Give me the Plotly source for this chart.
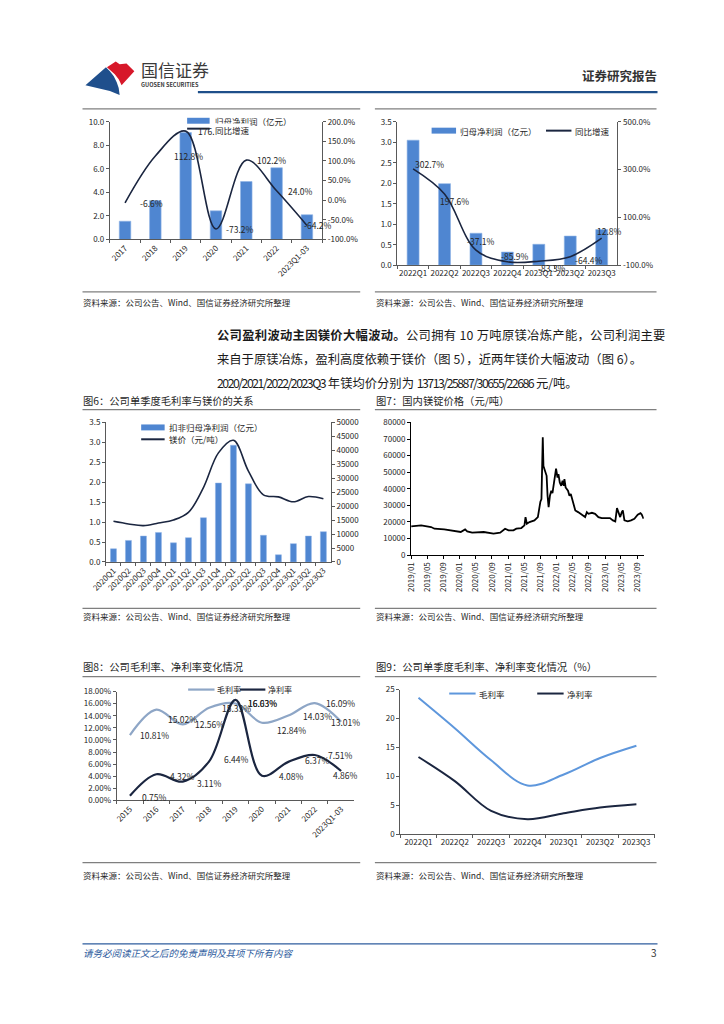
import plotly.graph_objects as go

# ---------------- data ----------------
annual_years = ["2017", "2018", "2019", "2020", "2021", "2022", "2023Q1-03"]
annual_profit = [1.55, 3.30, 9.08, 2.43, 4.92, 6.09, 2.10]
annual_growth = [-6.6, 112.8, 176.1, -73.2, 102.2, 24.0, -64.2]

quarters_a = ["2022Q1", "2022Q2", "2022Q3", "2022Q4", "2023Q1", "2023Q2", "2023Q3"]
quarter_profit = [3.05, 1.99, 0.78, 0.32, 0.51, 0.71, 0.87]
quarter_growth = [302.7, 197.6, -37.1, -85.9, -83.3, -64.4, 12.8]

quarters_b = ["2020Q1", "2020Q2", "2020Q3", "2020Q4", "2021Q1", "2021Q2", "2021Q3", "2021Q4",
              "2022Q1", "2022Q2", "2022Q3", "2022Q4", "2023Q1", "2023Q2", "2023Q3"]
deducted_profit = [0.33, 0.54, 0.65, 0.74, 0.48, 0.61, 1.11, 1.98, 2.93, 1.96, 0.67, 0.18, 0.46, 0.65, 0.76]
mg_quarter_price = [14570, 13630, 13030, 13980, 15050, 17770, 26660, 39100,
                    43600, 32580, 24050, 23340, 21560, 23460, 22630]

mg_dates = ["2019-01-02", "2019-03-18", "2019-06-01", "2019-06-26", "2019-09-08", "2019-11-21",
            "2020-01-10", "2020-02-12", "2020-02-28", "2020-04-05", "2020-07-01", "2020-09-13",
            "2020-11-02", "2020-12-09", "2021-01-04", "2021-02-10", "2021-03-04", "2021-04-10",
            "2021-05-04", "2021-05-12", "2021-05-22", "2021-06-11", "2021-07-18", "2021-08-13",
            "2021-08-25", "2021-09-01", "2021-09-09", "2021-09-19", "2021-09-24", "2021-10-08",
            "2021-10-18", "2021-10-25", "2021-11-02", "2021-11-12", "2021-11-22", "2021-12-01",
            "2021-12-09", "2021-12-21", "2021-12-28", "2022-01-08", "2022-01-15", "2022-01-25",
            "2022-02-05", "2022-02-15", "2022-02-25", "2022-03-01", "2022-03-10", "2022-03-28",
            "2022-04-08", "2022-04-18", "2022-04-28", "2022-05-10", "2022-05-22", "2022-06-12",
            "2022-07-10", "2022-08-04", "2022-08-17", "2022-08-29", "2022-09-24", "2022-10-18",
            "2022-11-12", "2022-12-07", "2023-01-13", "2023-02-07", "2023-03-01", "2023-03-19",
            "2023-04-01", "2023-04-13", "2023-04-25", "2023-05-07", "2023-05-15", "2023-05-27",
            "2023-06-21", "2023-07-16", "2023-08-10", "2023-09-04", "2023-09-25", "2023-10-04",
            "2023-10-18"]
mg_prices = [17300, 17900, 16900, 15900, 15500, 14300,
             13900, 15500, 14300, 13500, 13900, 12900,
             13500, 15900, 14900, 14900, 15900, 16300,
             17900, 22900, 18900, 19900, 20900, 22900,
             30800, 32200, 33800, 71000, 53700, 49700,
             47800, 35800, 28900, 35800, 38800, 37400,
             41800, 50700, 52100, 46800, 48800, 43800,
             41800, 44800, 41800, 45800, 40800, 38800,
             35800, 36800, 33800, 31800, 26900, 25900,
             24300, 22900, 25900, 24900, 25500, 24900,
             22900, 22300, 22300, 22300, 20900, 20300,
             28300, 25900, 22900, 25900, 26900, 20900,
             20300, 20900, 21900, 24300, 25300, 24500,
             21900]
mg_tick_dates = ["2019-01-01", "2019-05-01", "2019-09-01", "2020-01-01", "2020-05-01",
                 "2020-09-01", "2021-01-01", "2021-05-01", "2021-09-01", "2022-01-01",
                 "2022-05-01", "2022-09-01", "2023-01-01", "2023-05-01", "2023-09-01"]
mg_tick_labels = ["2019/01", "2019/05", "2019/09", "2020/01", "2020/05", "2020/09", "2021/01",
                  "2021/05", "2021/09", "2022/01", "2022/05", "2022/09", "2023/01", "2023/05",
                  "2023/09"]

margin_years = ["2015", "2016", "2017", "2018", "2019", "2020", "2021", "2022", "2023Q1-03"]
gross_margin_annual = [10.81, 15.02, 12.56, 15.33, 16.03, 12.84, 14.03, 16.09, 13.01]
net_margin_annual = [0.75, 4.32, 3.11, 6.44, 16.63, 4.08, 6.37, 7.51, 4.86]

gross_margin_q = [23.57, 18.30, 12.76, 8.41, 10.30, 13.16, 15.28]
net_margin_q = [13.33, 9.15, 4.00, 2.57, 3.60, 4.58, 5.15]

# ---------------- styles ----------------
W, H = 724, 1024
FONT = "Noto Sans CJK SC"
BAR = "#4f86d1"
BAR_EDGE = "#8fb3e6"
NAVY = "#1b2640"
GROSS8 = "#8ea6c6"
GROSS9 = "#5e97dc"
AX = "#595959"
TXT = "#262626"
SEP = "#7f7f7f"
HEAD_BLUE = "#1e4f8a"

# label pixel offsets (style)
c1_dx = [26, 33, 27, 24, 25, 24, 11]
c2_dx = [16, 10, 5, 7, 13, 18, 8]
c2_dy = [-5, 7, -9, -6, 7, 3, -7]
c8_dx = [25, 26, 27, 27, 27, 30, 29, 26, 4]
c8_dy_g = [0, 9, 0, 0, 0, 7, 0, 0, 0]
c8_dy_n = [1, 2, 1, -2, 3, 0, -2, 0, 4]


def X(p):
    return p / W


def Y(p):
    return 1 - p / H


fig = go.Figure()

# Chart 1: annual net profit + growth
fig.add_trace(go.Bar(x=annual_years, y=annual_profit, xaxis="x", yaxis="y", width=0.38,
                     marker=dict(color=BAR, line=dict(color=BAR_EDGE, width=0.6))))
fig.add_trace(go.Scatter(x=annual_years, y=annual_growth, xaxis="x", yaxis="y2", mode="lines",
                         line=dict(color=NAVY, width=1.6, shape="spline")))
# Chart 2: quarterly net profit + growth
fig.add_trace(go.Bar(x=quarters_a, y=quarter_profit, xaxis="x2", yaxis="y3", width=0.38,
                     marker=dict(color=BAR, line=dict(color=BAR_EDGE, width=0.6))))
fig.add_trace(go.Scatter(x=quarters_a, y=quarter_growth, xaxis="x2", yaxis="y4", mode="lines",
                         line=dict(color=NAVY, width=1.6, shape="spline")))
# Chart 6
fig.add_trace(go.Bar(x=quarters_b, y=deducted_profit, xaxis="x3", yaxis="y5", width=0.4,
                     marker=dict(color=BAR, line=dict(color=BAR_EDGE, width=0.5))))
fig.add_trace(go.Scatter(x=quarters_b, y=mg_quarter_price, xaxis="x3", yaxis="y6", mode="lines",
                         line=dict(color=NAVY, width=1.6, shape="spline")))
# Chart 7
fig.add_trace(go.Scatter(x=mg_dates, y=mg_prices, xaxis="x4", yaxis="y7", mode="lines",
                         line=dict(color="#000000", width=1.8)))
# Chart 8
fig.add_trace(go.Scatter(x=margin_years, y=gross_margin_annual, xaxis="x5", yaxis="y8", mode="lines",
                         line=dict(color=GROSS8, width=2.2, shape="spline")))
fig.add_trace(go.Scatter(x=margin_years, y=net_margin_annual, xaxis="x5", yaxis="y8", mode="lines",
                         line=dict(color=NAVY, width=2.2, shape="spline")))
# Chart 9
fig.add_trace(go.Scatter(x=quarters_a, y=gross_margin_q, xaxis="x6", yaxis="y9", mode="lines",
                         line=dict(color=GROSS9, width=2.0, shape="spline")))
fig.add_trace(go.Scatter(x=quarters_a, y=net_margin_q, xaxis="x6", yaxis="y9", mode="lines",
                         line=dict(color=NAVY, width=2.0, shape="spline")))

tickfont = dict(family=FONT, size=8, color=TXT)


def cat_axis(x0, x1, y_anchor, n, angle=0):
    return dict(domain=[X(x0), X(x1)], anchor=y_anchor, type="category", range=[-0.5, n - 0.5],
                showline=True, linecolor=AX, linewidth=1, ticks="outside", ticklen=3, tickcolor=AX,
                tickson="boundaries", showgrid=False, zeroline=False, tickfont=tickfont,
                tickangle=angle, fixedrange=True)


def val_axis(y0, y1, x_anchor, rng, **kw):
    d = dict(domain=[Y(y1), Y(y0)], anchor=x_anchor, range=rng, showline=True, linecolor=AX,
             linewidth=1, ticks="outside", ticklen=3, tickcolor=AX, showgrid=False, zeroline=False,
             tickfont=tickfont, fixedrange=True)
    d.update(kw)
    return d


def pct_ticks(vals):
    return ["%.1f%%" % v for v in vals]


r1 = [-100, -50, 0, 50, 100, 150, 200]
r2 = [-100, 100, 300, 500]

layout = dict(
    width=W, height=H, autosize=False, margin=dict(l=0, r=0, t=0, b=0),
    paper_bgcolor="white", plot_bgcolor="rgba(0,0,0,0)", showlegend=False,
    font=dict(family=FONT, color=TXT),
    xaxis=cat_axis(96, 313, "y", 7, -45),
    yaxis=val_axis(117, 236, "x", [0, 10], dtick=2, tickformat=".1f"),
    yaxis2=val_axis(117, 236, "x", [-100, 200], overlaying="y", side="right",
                    tickvals=r1, ticktext=pct_ticks(r1)),
    xaxis2=cat_axis(390, 615, "y3", 7, 0),
    yaxis3=val_axis(117, 262, "x2", [0, 3.5], dtick=0.5, tickformat=".1f"),
    yaxis4=val_axis(117, 262, "x2", [-100, 500], overlaying="y3", side="right",
                    tickvals=r2, ticktext=pct_ticks(r2)),
    xaxis3=cat_axis(92, 322, "y5", 15, -45),
    yaxis5=val_axis(421, 562, "x3", [0, 3.5], dtick=0.5, tickformat=".1f"),
    yaxis6=val_axis(421, 562, "x3", [0, 50000], overlaying="y5", side="right", dtick=5000,
                    tickformat="d"),
    xaxis4=dict(domain=[X(404), X(642)], anchor="y7", type="date", range=["2019-01-01", "2023-10-20"],
                tickvals=mg_tick_dates, ticktext=mg_tick_labels, tickangle=-90, showline=True,
                linecolor="#000000", linewidth=1, ticks="outside", ticklen=3, tickcolor="#000000",
                showgrid=False, zeroline=False, tickfont=tickfont, fixedrange=True),
    yaxis7=val_axis(421, 555, "x4", [0, 80000], dtick=10000, tickformat="d", linecolor="#000000",
                    tickcolor="#000000"),
    xaxis5=cat_axis(103, 346, "y8", 9, -45),
    yaxis8=val_axis(693, 803, "x5", [0, 18], dtick=2, tickformat=".2f", ticksuffix="%"),
    xaxis6=cat_axis(393, 653, "y9", 7, 0),
    yaxis9=val_axis(691, 837, "x6", [0, 25], dtick=5),
)
fig.update_layout(**layout)

annotations = []
shapes = []


def txt(t, x, y, size, color=TXT, xanchor="left", yanchor="middle", bg=None, italic=False):
    a = dict(text=t, x=X(x), y=Y(y), xref="paper", yref="paper", showarrow=False,
             xanchor=xanchor, yanchor=yanchor, borderpad=0,
             font=dict(family=FONT, size=size, color=color, style="italic" if italic else "normal"))
    if bg:
        a["bgcolor"] = bg
    annotations.append(a)


def hline(x0, x1, y, color=SEP, width=1.3):
    shapes.append(dict(type="line", xref="paper", yref="paper", x0=X(x0), x1=X(x1), y0=Y(y), y1=Y(y),
                       line=dict(color=color, width=width)))


def rect(x0, x1, y0, y1, color):
    shapes.append(dict(type="rect", xref="paper", yref="paper", x0=X(x0), x1=X(x1), y0=Y(y1), y1=Y(y0),
                       line=dict(width=0), fillcolor=color))


def path(points, color):
    d = "M " + " L ".join("%.5f,%.5f" % (X(a), Y(b)) for a, b in points) + " Z"
    shapes.append(dict(type="path", xref="paper", yref="paper", path=d, line=dict(width=0),
                       fillcolor=color))


def spaced(s, ls):
    return '<span style="letter-spacing:%spx">%s</span>' % (ls, s)


# ---- header ----
path([(71, 80), (92, 62), (96, 66), (100, 71), (103, 77), (105, 83), (106, 90), (96, 86)], "#1f4f8c")
path([(93, 62), (102, 56), (106, 59), (113, 58), (121, 66), (108, 80), (105, 74), (101, 69)], "#d7182a")
txt("国信证券", 127, 64, 17, "#3a3a3a")
txt("<b>GUOSEN SECURITIES</b>", 127, 80, 5.6, "#3a3a3a")
txt("<b>证券研究报告</b>", 656, 70, 12.5, "#333333", xanchor="right")
hline(186, 656, 87, HEAD_BLUE, 2.2)

# ---- separators / titles / sources ----
for xa, xb in [(68, 352), (367, 655)]:
    hline(xa, xb, 104)
    hline(xa, xb, 289)
    hline(xa, xb, 408)
    hline(xa, xb, 609)
    hline(xa, xb, 678)
    hline(xa, xb, 866)

src = "资料来源：公司公告、Wind、国信证券经济研究所整理"
for xa in (68, 367):
    txt(src, xa, 299, 8.5)
    txt(src, xa, 617, 8.5)
    txt(src, xa, 878, 8.5)

txt("图6：公司单季度毛利率与镁价的关系", 68, 399, 10.3)
txt("图7：国内镁锭价格（元/吨）", 367, 399, 10.3)
txt("图8：公司毛利率、净利率变化情况", 68, 668, 10.3)
txt("图9：公司单季度毛利率、净利率变化情况（%）", 367, 668, 10.3)

# ---- paragraph ----
PS = 12.3
txt(spaced("<b>公司盈利波动主因镁价大幅波动。</b>公司拥有 10 万吨原镁冶炼产能，公司利润主要", 0.3),
    205, 333, PS, "#1a1a1a")
txt("来自于原镁冶炼，盈利高度依赖于镁价（图 5），近两年镁价大幅波动（图 6）。",
    205, 357, PS, "#1a1a1a")
txt(spaced("2020/2021/2022/2023Q3", -1.5) + " 年镁均价分别为 " + spaced("13713/25887/30655/22686", -1.5)
    + " 元/吨。", 205, 381, PS, "#1a1a1a")

# ---- footer ----
hline(68, 656, 948, "#2e5c9e", 1.2)
txt("请务必阅读正文之后的免责声明及其项下所有内容", 68, 957, 9.5, "#2e5c9e", italic=True)
txt("3", 656, 957, 10, "#333333", xanchor="right")

# ---- chart data labels (x given as category index) ----
lab_font = dict(family=FONT, size=8.5, color=TXT)
for i, v in enumerate(annual_growth):
    annotations.append(dict(x=i, y=v, xref="x", yref="y2", text=("%.1f%%" % v), showarrow=False,
                            xshift=c1_dx[i], font=lab_font))
for i, v in enumerate(quarter_growth):
    annotations.append(dict(x=i, y=v, xref="x2", yref="y4", text=("%.1f%%" % v), showarrow=False,
                            xshift=c2_dx[i], yshift=-c2_dy[i], font=lab_font))
for i, v in enumerate(gross_margin_annual):
    annotations.append(dict(x=i, y=v, xref="x5", yref="y8", text=("%.2f%%" % v), showarrow=False,
                            xshift=c8_dx[i], yshift=-c8_dy_g[i], font=lab_font))
for i, v in enumerate(net_margin_annual):
    annotations.append(dict(x=i, y=v, xref="x5", yref="y8", text=("%.2f%%" % v), showarrow=False,
                            xshift=c8_dx[i], yshift=-c8_dy_n[i], font=lab_font))

# ---- legends (manual) ----
rect(175, 198, 113, 119, BAR)
txt("归母净利润（亿元）", 202, 116, 8.5, bg="white")
hline(175, 198, 124, NAVY, 2)
txt("同比增速", 202, 125, 8.5, bg="white")
rect(425, 450, 123, 129, BAR)
txt("归母净利润（亿元）", 453, 126, 8.5)
hline(542, 568, 126, NAVY, 2)
txt("同比增速", 571, 126, 8.5)
rect(128, 152, 423, 429, BAR)
txt("扣非归母净利润（亿元）", 155, 426, 8.5)
hline(128, 152, 438, NAVY, 2)
txt("镁价（元/吨）", 155, 438, 8.5)
hline(176, 203, 691, GROSS8, 2.2)
txt("毛利率", 205, 691, 8)
hline(229, 255, 691, NAVY, 2.2)
txt("净利率", 257, 691, 8)
hline(443, 470, 695, GROSS9, 2)
txt("毛利率", 472, 695, 8.5)
hline(533, 560, 695, NAVY, 2)
txt("净利率", 562, 695, 8.5)

fig.update_layout(annotations=annotations, shapes=shapes)

fig.write_html("out.html", config=dict(displayModeBar=False),
               post_script="document.body.style.margin='0';")
